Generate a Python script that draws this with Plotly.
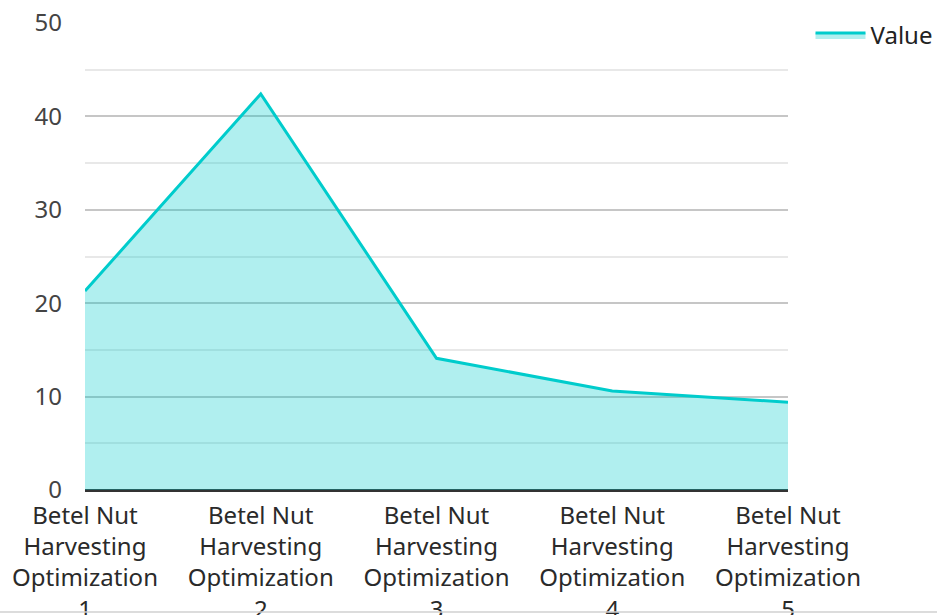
import plotly.graph_objects as go

# Categories and values for the area series
categories = [
    "Betel Nut<br>Harvesting<br>Optimization<br>1",
    "Betel Nut<br>Harvesting<br>Optimization<br>2",
    "Betel Nut<br>Harvesting<br>Optimization<br>3",
    "Betel Nut<br>Harvesting<br>Optimization<br>4",
    "Betel Nut<br>Harvesting<br>Optimization<br>5",
]
values = [21.3, 42.4, 14.1, 10.6, 9.4]
series_name = "Value"
y_ticks = [0, 10, 20, 30, 40, 50]

LINE = "#00cccc"
FILL = "rgba(0,204,204,0.31)"
FONT = "Noto Sans"

fig = go.Figure()
fig.add_trace(go.Scatter(
    x=list(range(len(categories))),
    y=values,
    name=series_name,
    mode="lines",
    fill="tozeroy",
    fillcolor=FILL,
    line=dict(color=LINE, width=3),
))

fig.update_layout(
    width=937,
    height=615,
    margin=dict(l=85, r=149, t=23, b=125, autoexpand=False),
    paper_bgcolor="white",
    plot_bgcolor="white",
    font=dict(family=FONT, size=24, color="#333"),
    showlegend=True,
    legend=dict(
        xref="container", yref="container",
        x=0.865, y=0.979, xanchor="left", yanchor="top",
        font=dict(family=FONT, size=24, color="#222"),
        bgcolor="rgba(0,0,0,0)",
        itemwidth=50,
    ),
    xaxis=dict(
        range=[0, len(categories) - 1],
        tickmode="array",
        tickvals=list(range(len(categories))),
        ticktext=categories,
        showgrid=False,
        zeroline=False,
        showline=False,
        automargin=False,
        tickfont=dict(family=FONT, size=24, color="#2a2a2a"),
        ticklabelstandoff=9,
    ),
    yaxis=dict(
        range=[0, 50],
        tickmode="array",
        tickvals=y_ticks,
        showgrid=True,
        gridcolor="#c6c6c6",
        gridwidth=1.5,
        minor=dict(dtick=5, showgrid=True, gridcolor="#e8e8e8", gridwidth=1.5),
        zeroline=True,
        zerolinecolor="#333333",
        zerolinewidth=2.5,
        showline=False,
        automargin=False,
        tickfont=dict(family=FONT, size=24, color="#444"),
        ticklabelstandoff=22,
    ),
)

# thin rule along the bottom edge of the page
fig.add_shape(
    type="line", xref="paper", yref="paper",
    x0=-85 / 703, x1=(937 - 85) / 703,
    y0=-122 / 467, y1=-122 / 467,
    line=dict(color="#d0d0d0", width=1.5),
)

fig.write_html("out.html")
